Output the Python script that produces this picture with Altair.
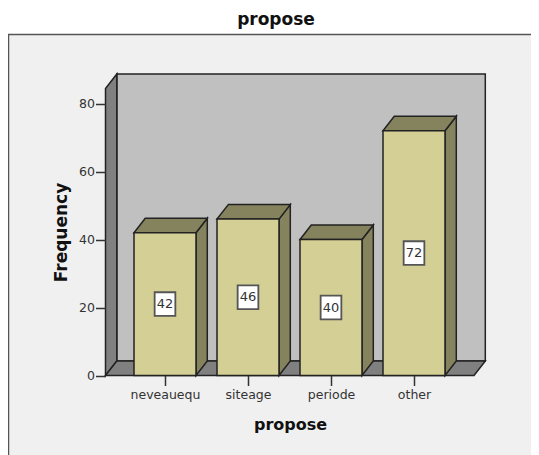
import altair as alt
import pandas as pd

categories = ["neveauequ", "siteage", "periode", "other"]
values = [42, 46, 40, 72]
y_ticks = [0, 20, 40, 60, 80]
title_text = "propose"
y_title = "Frequency"

W, H = 523, 447
PX_X = 83.0          # pixels per category slot
PX_Y = 3.4           # pixels per frequency unit
X0_PX, Y0_PX = 157.0, 367.5
xdom = [-X0_PX / PX_X, (W - X0_PX) / PX_X]
ydom = [(Y0_PX - H) / PX_Y, Y0_PX / PX_Y]
xscale = alt.Scale(domain=xdom, nice=False, zero=False)
yscale = alt.Scale(domain=ydom, nice=False, zero=False)

half = 31 / PX_X     # half a bar width
dx = 11.3 / PX_X     # depth along x
dy = 14.5 / PX_Y     # depth along y
left = -59.5 / PX_X  # front-left floor corner
right = (474 - 165) / PX_X
top = 84.4

edge = "#222222"
font = "DejaVu Sans"

label_expr = "[" + ",".join(f"'{c}'" for c in categories) + "][datum.value]"
x_axis = alt.Axis(
    title=title_text,
    values=list(range(len(categories))), labelExpr=label_expr, orient="bottom", offset=-79.5,
    domain=False, grid=False, zindex=1, tickSize=10, tickWidth=1.5, tickColor="#333333",
    labelFont=font, labelFontSize=12.5, labelColor="#333333", labelPadding=2.5, labelFlush=False, labelOverlap=False,
    titleFont=font, titleFontSize=16, titleFontWeight="bold", titleColor="#111111",
    titleX=282, titleY=41)
y_axis = alt.Axis(
    title=y_title,
    values=y_ticks, orient="left", offset=-97.5,
    domain=False, grid=False, zindex=1, tickSize=10, tickWidth=1.5, tickColor="#333333",
    labelFont=font, labelFontSize=12.5, labelColor="#333333", labelPadding=1,
    titleFont=font, titleFontSize=17, titleFontWeight="bold", titleColor="#111111",
    titleX=-35, titleY=224)

X = lambda: alt.X("x:Q", scale=xscale, axis=x_axis, stack=None)
Y = lambda: alt.Y("y:Q", scale=yscale, axis=y_axis, stack=None)

# panel behind everything, running off the right and bottom edges
panel_df = pd.DataFrame({"x": [xdom[0] + 0.5 / PX_X], "x2": [xdom[1] + 1], "y": [ydom[1] - 26.5 / PX_Y], "y2": [ydom[0] - 20]})
panel = alt.Chart(panel_df).mark_rect(fill="#f0f0f0", stroke="#555555", strokeWidth=1.5).encode(
    x=X(), x2="x2:Q", y=Y(), y2="y2:Q")

# back wall
wall_df = pd.DataFrame({"x": [left + dx], "x2": [right + dx], "y": [dy], "y2": [top + dy]})
wall = alt.Chart(wall_df).mark_rect(fill="#c0c0c0", stroke=edge, strokeWidth=1.5).encode(
    x=X(), x2="x2:Q", y=Y(), y2="y2:Q")

# left wall
lw_df = pd.DataFrame({"x": [left, left + dx], "y": [0, dy], "y2": [top, top + dy]})
lwall = alt.Chart(lw_df).mark_area(fill="#808080", stroke=edge, strokeWidth=1.5).encode(
    x=X(), y=Y(), y2="y2:Q")

# floor
fl_df = pd.DataFrame({"y": [0, dy], "x": [left, left + dx], "x2": [right, right + dx]})
floor = alt.Chart(fl_df).mark_area(orient="horizontal", fill="#808080", stroke=edge, strokeWidth=1.5).encode(
    y=Y(), x=X(), x2="x2:Q")

# bars
front_rows, top_rows, side_rows, label_rows = [], [], [], []
for i, (c, v) in enumerate(zip(categories, values)):
    front_rows.append({"x": i - half, "x2": i + half, "y": 0, "y2": v})
    top_rows += [{"c": c, "y": v, "x": i - half, "x2": i + half},
                 {"c": c, "y": v + dy, "x": i - half + dx, "x2": i + half + dx}]
    side_rows += [{"c": c, "x": i + half, "y": 0, "y2": v},
                  {"c": c, "x": i + half + dx, "y": dy, "y2": v + dy}]
    label_rows.append({"x": i, "y": v / 2, "t": str(v)})

front = alt.Chart(pd.DataFrame(front_rows)).mark_rect(fill="#d3cf95", stroke=edge, strokeWidth=1.5).encode(
    x=X(), x2="x2:Q", y=Y(), y2="y2:Q")
tops = alt.Chart(pd.DataFrame(top_rows)).mark_area(orient="horizontal", fill="#85835e", stroke=edge, strokeWidth=1.5).encode(
    y=Y(), x=X(), x2="x2:Q", detail="c:N")
sides = alt.Chart(pd.DataFrame(side_rows)).mark_area(fill="#85835e", stroke=edge, strokeWidth=1.5).encode(
    x=X(), y=Y(), y2="y2:Q", detail="c:N")

lab_df = pd.DataFrame(label_rows)
boxes = alt.Chart(lab_df).mark_point(
    shape="M -0.875 -1 H 0.875 V 1 H -0.875 Z", size=560, filled=True, fill="white",
    stroke="#555555", strokeWidth=1.8, opacity=1
).encode(x=X(), y=Y())
texts = alt.Chart(lab_df).mark_text(font=font, fontSize=13, color="#333333").encode(x=X(), y=Y(), text="t:N")

chart = alt.layer(panel, wall, lwall, floor, sides, tops, front, boxes, texts).properties(
    width=W, height=H, padding=0, autosize=alt.AutoSizeParams(type="none"),
    title=alt.TitleParams(title_text, font=font, fontSize=17, fontWeight="bold", color="#111111",
                          anchor="middle", offset=-38, dx=6.5, baseline="bottom"),
    background="white",
).configure_view(stroke=None)

chart.save("out.html", embed_options={"renderer": "svg", "actions": False})
